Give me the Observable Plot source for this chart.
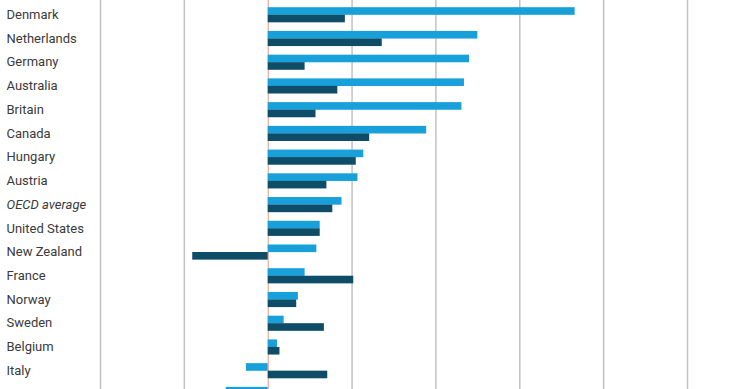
<!DOCTYPE html>
<html>
<head>
<meta charset="utf-8">
<script src="https://cdn.jsdelivr.net/npm/d3@7"></script>
<script src="https://cdn.jsdelivr.net/npm/@observablehq/plot@0.6"></script>
<style>
  html, body { margin: 0; padding: 0; background: #fff; }
  #wrap { width: 740px; height: 389px; overflow: hidden; position: relative; }
  #wrap svg { overflow: hidden; }
</style>
</head>
<body>
<div id="wrap"></div>
<script>
const countries = ["Denmark", "Netherlands", "Germany", "Australia", "Britain", "Canada", "Hungary", "Austria", "OECD average", "United States", "New Zealand", "France", "Norway", "Sweden", "Belgium", "Italy", "Japan"];
const lightValues = [36.6, 25.0, 24.0, 23.4, 23.1, 18.9, 11.4, 10.7, 8.8, 6.2, 5.8, 4.4, 3.6, 1.9, 1.1, -2.6, -5.0];
const darkValues = [9.2, 13.6, 4.4, 8.3, 5.7, 12.1, 10.5, 7.0, 7.7, 6.2, -9.0, 10.2, 3.4, 6.7, 1.4, 7.1, null];
const gridTicks = [-20, -10, 10, 20, 30, 40, 50];

const light = countries.map((c, i) => ({country: c, value: lightValues[i]}));
const dark = countries.map((c, i) => ({country: c, value: darkValues[i]})).filter(d => d.value != null);

const step = 23.73;
const top0 = 2.9;

const chart = Plot.plot({
  width: 740,
  height: 389,
  marginLeft: 100,
  marginRight: 53,
  marginTop: 0,
  marginBottom: 0,
  style: {background: "#fff", fontFamily: "Roboto, sans-serif"},
  x: {domain: [-20, 50], axis: null},
  y: {domain: countries, range: [top0, top0 + step * countries.length], padding: 0, round: false, axis: null},
  marks: [
    Plot.ruleX(gridTicks, {stroke: "#c2c2c2", strokeWidth: 1.5}),
    Plot.ruleX([0], {stroke: "#e59a88", strokeWidth: 1}),
    Plot.barX(light, {y: "country", x1: () => 0, x2: "value", fill: "#17a0da", insetTop: 4.3, insetBottom: 11.8}),
    Plot.barX(dark, {y: "country", x1: () => 0, x2: "value", fill: "#0f4c68", insetTop: 11.8, insetBottom: 4.3}),
    Plot.text(countries.filter(c => c !== "OECD average"), {y: d => d, text: d => d, frameAnchor: "left", dx: -94, dy: -0.5, textAnchor: "start", fontSize: 13, fill: "#3a3a3a"}),
    Plot.text(["OECD average"], {y: d => d, text: d => d, frameAnchor: "left", dx: -94, dy: -0.5, textAnchor: "start", fontSize: 13, fontStyle: "italic", fill: "#3a3a3a"})
  ]
});
document.getElementById("wrap").appendChild(chart);
</script>
</body>
</html>
